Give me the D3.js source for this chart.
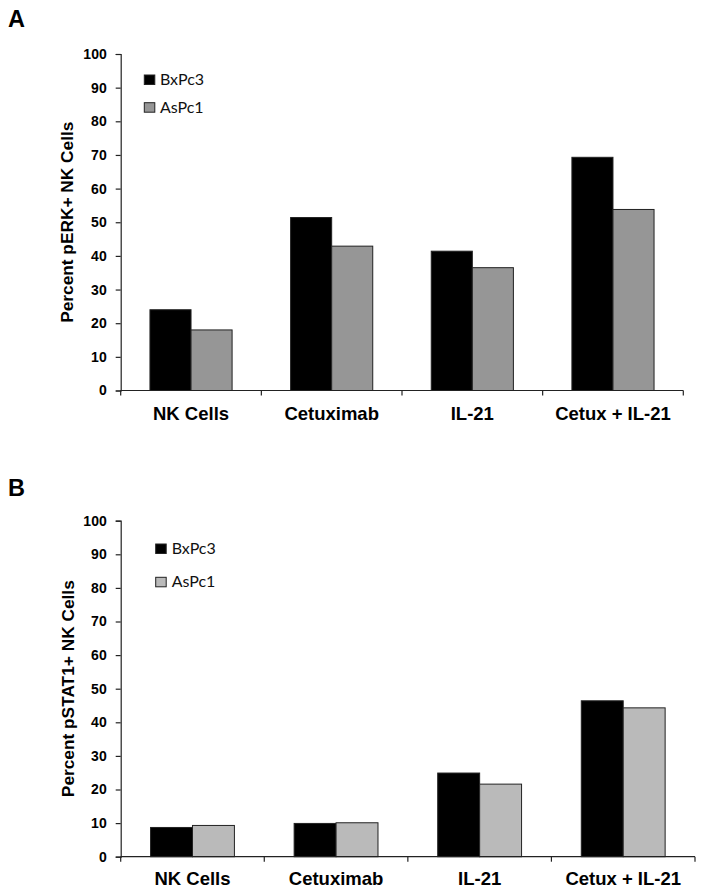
<!DOCTYPE html>
<html>
<head>
<meta charset="utf-8">
<script src="https://cdn.jsdelivr.net/npm/d3@7"></script>
<style>
  html, body { margin: 0; padding: 0; background: #fff; }
  svg { display: block; }
</style>
</head>
<body>
<svg id="chart" width="704" height="894"></svg>
<script>
// ---- data ----
const categories = ["NK Cells", "Cetuximab", "IL-21", "Cetux + IL-21"];
const seriesNames = ["BxPc3", "AsPc1"];
const yTicks = [0, 10, 20, 30, 40, 50, 60, 70, 80, 90, 100];

const pERK_BxPc3 = [24.0, 51.4, 41.4, 69.3];
const pERK_AsPc1 = [18.0, 42.9, 36.5, 53.8];

const pSTAT1_BxPc3 = [8.7, 9.9, 24.9, 46.4];
const pSTAT1_AsPc1 = [9.3, 10.1, 21.6, 44.3];

const panels = [
  {
    letter: "A", letterY: 26.5,
    title: "Percent pERK+ NK Cells",
    values: [pERK_BxPc3, pERK_AsPc1],
    colors: ["#000000", "#969696"],
    x0: 120.7, x1: 683.3, yBottom: 390.5, yTop: 54,
    titleX: 73, labelDy: 29,
    legendX: 144.3, legendY: [75, 102.7], legendTextX: 160
  },
  {
    letter: "B", letterY: 495.5,
    title: "Percent pSTAT1+ NK Cells",
    values: [pSTAT1_BxPc3, pSTAT1_AsPc1],
    colors: ["#000000", "#bababa"],
    x0: 120.7, x1: 695, yBottom: 856.7, yTop: 520.7,
    titleX: 74, labelDy: 28.5,
    legendX: 155.7, legendY: [544, 577.3], legendTextX: 171.7
  }
];

const svg = d3.select("#chart");

panels.forEach(p => {
  const g = svg.append("g");

  const x = d3.scaleBand().domain(categories).range([p.x0, p.x1]).padding(0);
  const bw = x.bandwidth();
  const xs = d3.scaleBand().domain(seriesNames).range([bw * 0.208, bw * 0.792]).padding(0);
  const y = d3.scaleLinear().domain([0, 100]).range([p.yBottom, p.yTop]);

  // panel letter
  g.append("text")
    .attr("x", 8).attr("y", p.letterY)
    .attr("font-family", "Liberation Sans, Arial, sans-serif")
    .attr("font-weight", "bold").attr("font-size", 23.5)
    .text(p.letter);

  // bars
  seriesNames.forEach((s, si) => {
    g.append("g").selectAll("rect")
      .data(categories.map((c, i) => ({ c, v: p.values[si][i] })))
      .join("rect")
      .attr("x", d => x(d.c) + xs(s))
      .attr("y", d => y(d.v))
      .attr("width", xs.bandwidth())
      .attr("height", d => y(0) - y(d.v))
      .attr("fill", p.colors[si])
      .attr("stroke", "#222")
      .attr("stroke-width", 1);
  });

  // y axis
  const yAxis = d3.axisLeft(y).tickValues(yTicks).tickSize(5).tickPadding(9).tickFormat(d3.format("d"));
  const ya = g.append("g").attr("transform", `translate(${p.x0},0)`).call(yAxis);
  ya.select(".domain").attr("stroke", "#222").attr("stroke-width", 1.2);
  ya.selectAll(".tick line").attr("stroke", "#222").attr("stroke-width", 1.2);
  ya.selectAll("text")
    .attr("font-family", "Liberation Sans, Arial, sans-serif")
    .attr("font-weight", "bold").attr("font-size", 14).attr("fill", "#000");

  // x axis line with boundary ticks
  const xa = g.append("g").attr("transform", `translate(0,${p.yBottom})`);
  xa.append("line").attr("x1", p.x0).attr("x2", p.x1).attr("y1", 0).attr("y2", 0)
    .attr("stroke", "#222").attr("stroke-width", 1.2);
  const bounds = categories.map(c => x(c)).concat([x(categories[categories.length - 1]) + bw]);
  xa.selectAll("line.bt").data(bounds).join("line").attr("class", "bt")
    .attr("x1", d => d).attr("x2", d => d).attr("y1", 0).attr("y2", 5)
    .attr("stroke", "#222").attr("stroke-width", 1.2);
  xa.selectAll("text").data(categories).join("text")
    .attr("x", d => x(d) + bw / 2).attr("y", p.labelDy)
    .attr("text-anchor", "middle")
    .attr("font-family", "Liberation Sans, Arial, sans-serif")
    .attr("font-weight", "bold").attr("font-size", 18.5)
    .text(d => d);

  // y title
  g.append("text")
    .attr("transform", `translate(${p.titleX},${(p.yBottom + p.yTop) / 2}) rotate(-90)`)
    .attr("text-anchor", "middle")
    .attr("font-family", "Liberation Sans, Arial, sans-serif")
    .attr("font-weight", "bold").attr("font-size", 17.3)
    .text(p.title);

  // legend
  seriesNames.forEach((s, si) => {
    const ly = p.legendY[si];
    g.append("rect")
      .attr("x", p.legendX).attr("y", ly).attr("width", 10.5).attr("height", 9.5)
      .attr("fill", p.colors[si]).attr("stroke", "#222").attr("stroke-width", 1);
    g.append("text")
      .attr("x", p.legendTextX).attr("y", ly + 9.8)
      .attr("font-family", "Lato, Liberation Sans, sans-serif")
      .attr("font-size", 16).attr("fill", "#111")
      .text(s);
  });
});
</script>
</body>
</html>
